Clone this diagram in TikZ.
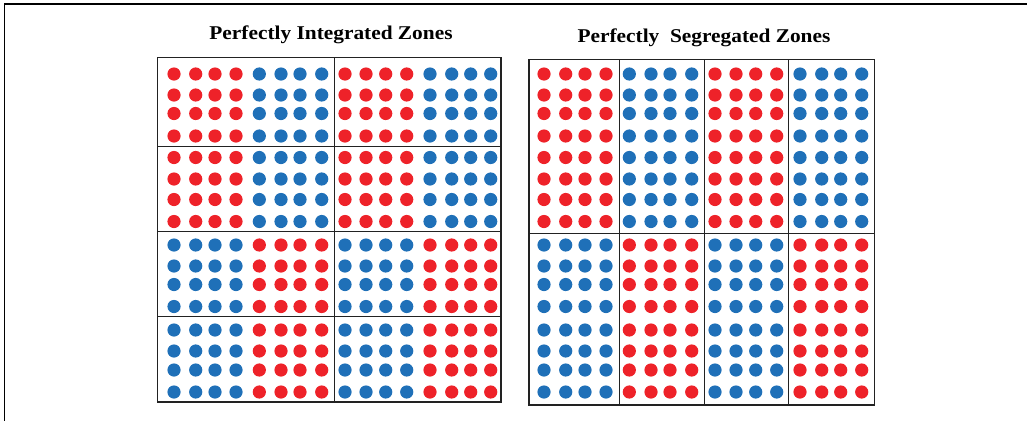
\documentclass[tikz,border=0pt]{standalone}
\usepackage{fontspec}
\setmainfont{Liberation Serif}
\usepackage{graphicx}
\definecolor{dotred}{HTML}{EE2229}
\definecolor{dotblue}{HTML}{1F70B8}
\definecolor{gridline}{HTML}{222222}
\newcommand{\wtitle}[1]{\scalebox{1.095}[1]{#1}}
\begin{document}
\begin{tikzpicture}[x=1pt,y=-1pt,
  gridbox/.style={draw=gridline,line width=1.6pt},
  frameline/.style={draw=black,line width=1.6pt},
  title/.style={font=\bfseries\fontsize{19.5}{22}\selectfont,anchor=base,inner sep=0pt}]
\useasboundingbox (0,0) rectangle (1027,421);
% outer frame (top and left only)
\coordinate (fTL) at (4.5,4);
\coordinate (fTR) at (1027,4);
\coordinate (fBL) at (4.5,421);
\draw[frameline] (fTR) -- (fTL) -- (fBL);
% titles
\node[title] (t1) at (331,39.5) {\wtitle{Perfectly Integrated Zones}};
\node[title] (t2) at (704,42.5) {\wtitle{Perfectly\ \ Segregated Zones}};
% left grid
\draw[gridbox] (157.5,57.5) rectangle (501,402);
\draw[gridbox] (334.5,57.5) -- (334.5,402);
\foreach \yy in {146.5,231.5,316.5} \draw[gridbox] (157.5,\yy) -- (501,\yy);
% right grid
\draw[gridbox] (529,59.5) rectangle (874.5,405);
\foreach \xx in {619.5,704.5,788.5} \draw[gridbox] (\xx,59.5) -- (\xx,405);
\draw[gridbox] (529,233.5) -- (874.5,233.5);
% dots
\def\rowlist{74,95,113.5,136,157.5,179,199.5,221.5,245,266,284.5,306.5,330,351,370,392}
\foreach \yy [count=\r] in \rowlist {
  \foreach \xx [count=\c] in {174,195.7,215,236,259.3,281,300,321.7,345,366,385.7,406.7,430,451.7,470.7,490.7,544,565.7,585,606,629.3,651,670,691.7,715,736,755.7,776.7,800,821.7,840.7,861.7} {
    \pgfmathtruncatemacro{\sel}{mod(int((\c-1)/4)+int((\r-1)/8),2)}
    \ifnum\sel=0
      \fill[dotred] (\xx,\yy) circle[radius=6.6];
    \else
      \fill[dotblue] (\xx,\yy) circle[radius=6.6];
    \fi
  }
}
\end{tikzpicture}
\end{document}
